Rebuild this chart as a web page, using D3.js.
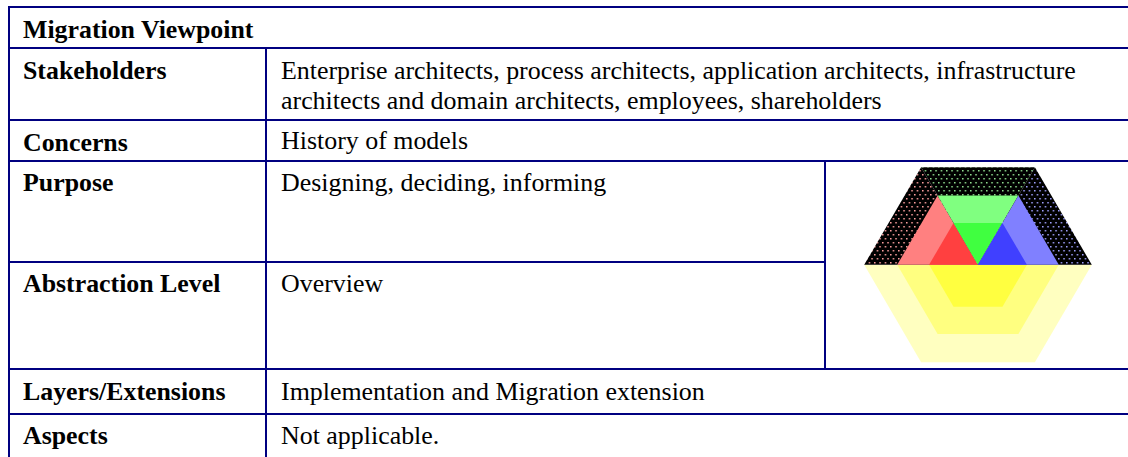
<!DOCTYPE html>
<html><head><meta charset="utf-8">
<script src="https://cdn.jsdelivr.net/npm/d3@7/dist/d3.min.js"></script>
<style>html,body{margin:0;padding:0;background:#fff}svg{display:block}</style>
</head><body><svg id="c" width="1128" height="457"></svg>
<script>
const title = "Migration Viewpoint";
const rowLabels = ["Stakeholders","Concerns","Purpose","Abstraction Level","Layers/Extensions","Aspects"];
const rowValues = [
  ["Enterprise architects, process architects, application architects, infrastructure","architects and domain architects, employees, shareholders"],
  ["History of models"],
  ["Designing, deciding, informing"],
  ["Overview"],
  ["Implementation and Migration extension"],
  ["Not applicable."]
];
const layerRadii = [1, 0.71, 0.43];
const yellowShades = ["#ffffc0","#ffff80","#ffff40"];
const sectors = [
  {name:"red", a:[-1,0], b:[-0.5,1], shades:["#ff8080","#ff4040"], dot:"#ffa0a0"},
  {name:"green", a:[-0.5,1], b:[0.5,1], shades:["#80ff80","#40ff40"], dot:"#90e090"},
  {name:"blue", a:[0.5,1], b:[1,0], shades:["#8080ff","#4040ff"], dot:"#a0a0ff"}
];

const W=1128,H=457,navy="#000080";
const svg=d3.select("#c");
const defs=svg.append("defs");
const tw=16/3, th=8;
sectors.forEach(s=>{
  const p=defs.append("pattern").attr("id","dots-"+s.name).attr("patternUnits","userSpaceOnUse")
    .attr("x",2).attr("y",2).attr("width",tw).attr("height",th);
  p.append("rect").attr("width",tw).attr("height",th).attr("fill","#000");
  [[0,0],[tw/2,th/2]].forEach(d=>p.append("rect").attr("x",d[0]).attr("y",d[1]).attr("width",1.5).attr("height",1.5).attr("fill",s.dot));
});

// table grid
const rowY=d3.scaleOrdinal().domain(["top","head",...rowLabels.slice(0,5)]).range([7,48,120,161,262,369,414]);
const line=(x1,y1,x2,y2)=>svg.append("line").attr("x1",x1).attr("y1",y1).attr("x2",x2).attr("y2",y2).attr("stroke",navy).attr("stroke-width",2).attr("shape-rendering","crispEdges");
const colX={left:9,split:266,pic:825};
rowY.domain().forEach(k=>{
  const isPurposeBottom = k==="Purpose";
  line(isPurposeBottom?colX.left:colX.left-1, rowY(k), isPurposeBottom?colX.pic:W, rowY(k));
});
line(colX.left,6,colX.left,H);
line(colX.split,48,colX.split,H);
line(colX.pic,161,colX.pic,369);

// text
const bl=d3.scaleOrdinal().domain(rowLabels).range([79,150.5,191,292,400,444]);
const vbl=d3.scaleOrdinal().domain(rowLabels).range([79,149,191,292,400,444]);
const serif="'Liberation Serif','Times New Roman',serif";
const fsB=25.85, fsR=25.92;
svg.append("text").attr("x",23).attr("y",38).attr("font-family",serif).attr("font-size",fsB).attr("font-weight","bold").attr("fill","#000").text(title);
svg.selectAll("text.l").data(rowLabels).join("text").attr("class","l")
  .attr("x",23).attr("y",d=>bl(d)).attr("font-family",serif).attr("font-size",fsB).attr("font-weight","bold").attr("fill","#000").text(d=>d);
rowLabels.forEach((r,i)=>rowValues[i].forEach((t,j)=>{
  svg.append("text").attr("x",281).attr("y",vbl(r)+j*30).attr("font-family",serif).attr("font-size",fsR).attr("fill","#000").text(t);
}));

// hexagon icon
const x=d3.scaleLinear().domain([-1,1]).range([864.2,1091.8]);
const y=d3.scaleLinear().domain([-1,1]).range([362.3,167.3]);
const poly=(pts,fill)=>svg.append("polygon").attr("points",pts.map(p=>[x(p[0]),y(p[1])].join(",")).join(" ")).attr("fill",fill);
layerRadii.forEach((r,i)=>poly([[-r,0],[r,0],[r/2,-r],[-r/2,-r]],yellowShades[i]));
sectors.forEach(s=>{
  const outer=layerRadii[0];
  poly([[0,0],[s.a[0]*outer,s.a[1]*outer],[s.b[0]*outer,s.b[1]*outer]],`url(#dots-${s.name})`);
  layerRadii.slice(1).forEach((r,i)=>poly([[0,0],[s.a[0]*r,s.a[1]*r],[s.b[0]*r,s.b[1]*r]],s.shades[i]));
});
</script></body></html>
